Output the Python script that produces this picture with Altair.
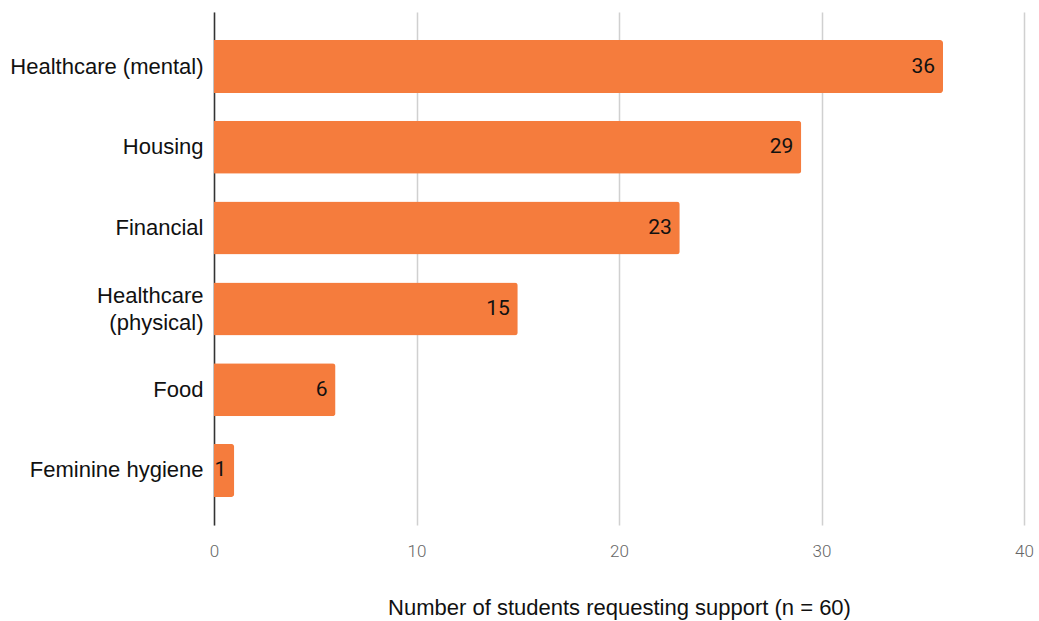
import altair as alt
import pandas as pd

categories = ["Healthcare (mental)", "Housing", "Financial", "Healthcare (physical)", "Food", "Feminine hygiene"]
values = [36, 29, 23, 15, 6, 1]

df = pd.DataFrame({"category": categories, "count": values})

y_enc = alt.Y(
    "category:N",
    sort=categories,
    title=None,
    scale=alt.Scale(paddingInner=0.344, paddingOuter=0.347),
    axis=alt.Axis(
        labelExpr="datum.value == 'Healthcare (physical)' ? ['Healthcare', '(physical)'] : datum.value",
        labelOffset={"condition": {"test": "datum.value == 'Healthcare (physical)'", "value": -13}, "value": 0},
        labelFont="Liberation Sans",
        labelFontSize=22,
        labelColor="#111111",
        labelPadding=11,
        labelLineHeight=27,
        ticks=False,
        domain=True,
        domainColor="#333333",
        domainWidth=1.5,
        grid=False,
        labelLimit=400,
    ),
)

x_enc = alt.X(
    "count:Q",
    scale=alt.Scale(domain=[0, 40], nice=False),
    title="Number of students requesting support (n = 60)",
    axis=alt.Axis(
        values=[0, 10, 20, 30, 40],
        labelFont="Roboto",
        labelFontWeight=300,
        labelFontSize=17,
        labelColor="#666666",
        labelPadding=18,
        labelFlush=False,
        ticks=False,
        domain=False,
        grid=True,
        gridColor="#d0d0d0",
        gridWidth=1.5,
        titleFont="Liberation Sans",
        titleFontSize=22,
        titleFontWeight="normal",
        titleColor="#111111",
        titlePadding=38,
    ),
)

bars = alt.Chart(df).mark_bar(color="#F57C3D", cornerRadiusEnd=3).encode(x=x_enc, y=y_enc)

labels = alt.Chart(df).mark_text(
    align="right", baseline="middle", dx=-8, font="Roboto", fontSize=21, color="#111111"
).encode(
    x=alt.X("count:Q"),
    y=alt.Y("category:N", sort=categories),
    text=alt.Text("count:Q"),
)

chart = (
    alt.layer(bars, labels)
    .properties(
        width=810,
        height=513,
        padding={"left": 214, "top": 12, "right": 15, "bottom": 96},
        autosize=alt.AutoSizeParams(type="none"),
        background="white",
    )
    .configure_view(stroke=None)
)

chart.save("out.html", embed_options={"renderer": "svg", "actions": False})
